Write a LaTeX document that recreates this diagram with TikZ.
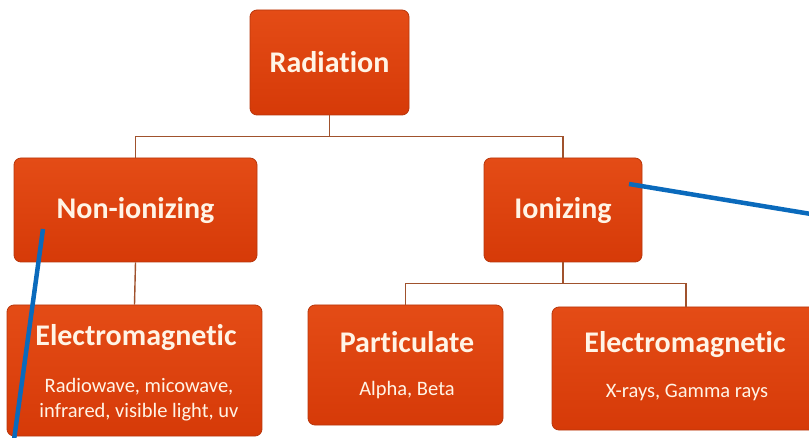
\documentclass[tikz,border=0pt]{standalone}
\usepackage{fontspec}
\setmainfont[Ligatures={NoCommon}]{Carlito}
\usetikzlibrary{calc}
\definecolor{boxtop}{HTML}{E44C16}
\definecolor{boxbot}{HTML}{D63A08}
\definecolor{boxedge}{HTML}{B8370C}
\definecolor{txt}{HTML}{FFF4E6}
\definecolor{link}{HTML}{A0522D}
\definecolor{mark}{HTML}{0A6ABC}
\tikzset{
  orgbox/.style={rectangle, rounded corners=7pt, draw=boxedge, line width=0.8pt,
    top color=boxtop, bottom color=boxbot, inner sep=0pt},
  headtxt/.style={text=txt, font=\bfseries\fontsize{30}{33}\selectfont, inner sep=0pt},
  subtxt/.style={text=txt, font=\fontsize{20.5}{25}\selectfont, align=center, inner sep=0pt},
  linkline/.style={draw=link, line width=1.4pt},
  markline/.style={draw=mark, line width=4.5pt}
}
\begin{document}
\begin{tikzpicture}[x=1pt,y=1pt]
\useasboundingbox (0,0) rectangle (809,-438);
\fill[white] (0,0) rectangle (809,-438);
% boxes
\node[orgbox, minimum width=159, minimum height=105] (rad) at (329.5,-62.5) {};
\node[orgbox, minimum width=243, minimum height=104] (non) at (135.5,-210) {};
\node[orgbox, minimum width=158, minimum height=104] (ion) at (563,-210) {};
\node[orgbox, minimum width=255, minimum height=131] (eml) at (134.5,-370.5) {};
\node[orgbox, minimum width=195, minimum height=120] (par) at (405.5,-365) {};
\node[orgbox, minimum width=268, minimum height=123] (emr) at (686,-368.5) {};
% texts
\node[headtxt] (radt) at (329.5,-62) {Radiation};
\node[headtxt] (nont) at (135.5,-211) {Non-ionizing};
\node[headtxt] (iont) at (563,-211) {Ionizing};
\node[headtxt] (emlt) at (136,-338) {Electromagnetic};
\node[subtxt] (emls) at (139,-399.5) {Radiowave, micowave,\\infrared, visible light, uv};
\node[headtxt] (part) at (407,-342) {Particulate};
\node[subtxt] (pars) at (407,-390) {Alpha, Beta};
\node[headtxt] (emrt) at (685,-345) {Electromagnetic};
\node[subtxt] (emrs) at (687,-392) {X-rays, Gamma rays};
% connectors
\coordinate (j1) at ($(rad.south)+(0,-21)$);
\draw[linkline] (rad.south) -- (j1);
\draw[linkline] (j1) -| (non.north);
\draw[linkline] (j1) -| (ion.north);
\draw[linkline] (non.south) -- (eml.north);
\coordinate (j2) at ($(ion.south)+(0,-21)$);
\draw[linkline] (ion.south) -- (j2);
\draw[linkline] (j2) -| (par.north);
\draw[linkline] (j2) -| (emr.north);
% blue marks
\coordinate (b1s) at (43,-229);
\coordinate (b1e) at (14,-440);
\coordinate (b2s) at (629,-184);
\coordinate (b2e) at (811,-214);
\draw[markline] (b1s) -- (b1e);
\draw[markline] (b2s) -- (b2e);
\end{tikzpicture}
\end{document}
